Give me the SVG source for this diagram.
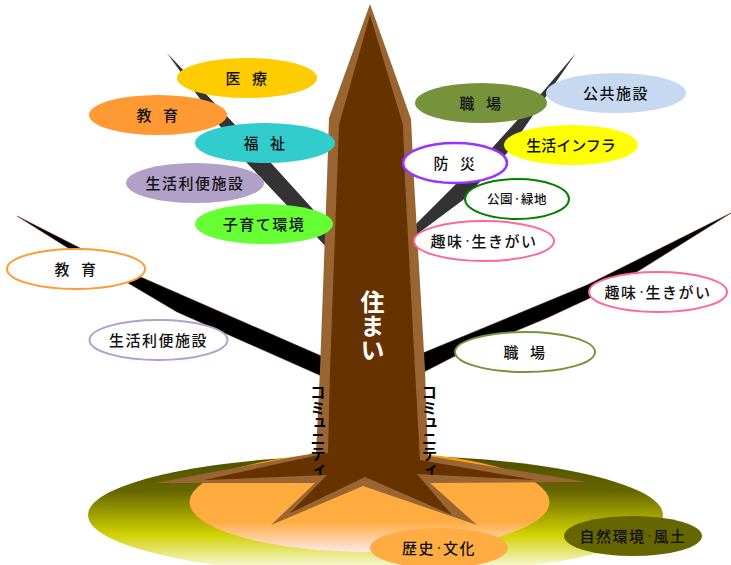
<svg xmlns="http://www.w3.org/2000/svg" width="731" height="565" viewBox="0 0 731 565">
<style>
text{font-family:"Noto Sans CJK JP","Noto Sans CJK SC",sans-serif;font-weight:500;font-size:15px;fill:#111;text-anchor:middle;dominant-baseline:central;letter-spacing:1.5px;word-spacing:5px}
.v{writing-mode:vertical-rl;text-orientation:upright;font-weight:700;letter-spacing:0;fill:#000}
.dot{font-size:8px;letter-spacing:0}
.ring{fill:#fff;stroke-width:2}
</style>
<defs>
<linearGradient id="groundFill" x1="0" y1="0" x2="0" y2="1">
<stop offset="0" stop-color="#4d4d00"/><stop offset=".3" stop-color="#666600"/><stop offset=".66" stop-color="#d0d000"/><stop offset=".95" stop-color="#fbfbe8"/>
</linearGradient>
<linearGradient id="moundFill" x1="0" y1="0" x2="0" y2="1">
<stop offset="0" stop-color="#ff9900"/><stop offset=".3" stop-color="#ffaa3c"/><stop offset=".7" stop-color="#ffad42"/><stop offset="1" stop-color="#fce8e8"/>
</linearGradient>
</defs>
<g id="ground">
<ellipse cx="375.500" cy="515" rx="287.500" ry="60" fill="url(#groundFill)"/>
<ellipse cx="369.500" cy="502" rx="180" ry="50" fill="url(#moundFill)"/>
</g>
<g id="branches">
<path id="branch-upper-left" fill="#333" d="M167 53L205 93L271 163L330 228V251L247 163L195 92Z"/>
<path id="branch-upper-right" fill="#333" d="M576 53L547 95L507 153L463 200L412 238V228L493 147L540 95Z"/>
<path id="branch-lower-left" fill="#000" stroke="#6b2a10" stroke-width=".5" d="M17 216L80 248L143 278L326 358V378L177 312L128 283L68 248Z"/>
<path id="branch-lower-right" fill="#000" stroke="#6b2a10" stroke-width=".5" d="M731 213L587 285L418 355V375L453 357L547 318L590 298L640 270Z"/>
</g>
<g id="trunk">
<path fill="#996633" d="M370 4L411 119L414 180L425 370L428 456L587 482L430 483L477 525L363 486L271 525L315 483L155 483L310 454L316 453L320 370L327 180L329 118Z"/>
<path fill="#663300" d="M370 15L403 125L405 180L415 370L420 460L535 480L417 474L452 515L365 477L290 513L327 475L204 480L328 453L330 370L337 180L339 125Z"/>
<text class="v" x="372.500" y="326" style="font-size:24px;fill:#fff">住まい</text>
</g>
<g id="community-labels">
<text class="v" x="318" y="431" style="font-size:15.500px">コミュニティ</text>
<text class="v" x="429.500" y="431" style="font-size:15.500px">コミュニティ</text>
</g>
<g id="node-iryo"><ellipse cx="247" cy="78" rx="70" ry="20" fill="#ffcc00"/><text x="247" y="77">医 療</text></g>
<g id="node-kyoiku-a"><ellipse cx="158" cy="115" rx="69" ry="20" fill="#ff9933"/><text x="158" y="114">教 育</text></g>
<g id="node-fukushi"><ellipse cx="265" cy="143" rx="70" ry="20" fill="#33cccc"/><text x="265" y="142">福 祉</text></g>
<g id="node-benri-a"><ellipse cx="195" cy="183" rx="69" ry="20" fill="#b1a0c7"/><text x="195" y="182">生活利便施設</text></g>
<g id="node-kosodate"><ellipse cx="264" cy="224" rx="69" ry="20" fill="#66ff33"/><text x="264" y="223">子育て環境</text></g>
<g id="node-kyoiku-b"><ellipse class="ring" cx="76" cy="269" rx="69" ry="20" stroke="#ff9933"/><text x="76" y="268">教 育</text></g>
<g id="node-benri-b"><ellipse class="ring" cx="158.500" cy="340" rx="69" ry="20" stroke="#b1a0c7"/><text x="158.500" y="339">生活利便施設</text></g>
<g id="node-shokuba-a"><ellipse cx="481" cy="103" rx="66" ry="20" fill="#76933c"/><text x="481" y="102">職 場</text></g>
<g id="node-kokyo"><ellipse cx="616" cy="93" rx="70" ry="20" fill="#c6d9f1"/><text x="616" y="92">公共施設</text></g>
<g id="node-infra"><ellipse cx="571" cy="145" rx="67" ry="20" fill="#ffff00"/><text x="571" y="144" style="letter-spacing:0">生活インフラ</text></g>
<g id="node-bosai"><ellipse class="ring" cx="455" cy="163" rx="52" ry="20" stroke="#9933ff" style="stroke-width:2.500px"/><text x="455" y="162">防 災</text></g>
<g id="node-koen"><ellipse class="ring" cx="517" cy="199" rx="52" ry="20" stroke="#008000"/><text x="517" y="198" style="font-size:12.500px;letter-spacing:.5px">公園<tspan class="dot">・</tspan>緑地</text></g>
<g id="node-shumi-a"><ellipse class="ring" cx="484" cy="241" rx="70" ry="20" stroke="#ff6699"/><text x="484" y="240">趣味<tspan class="dot">・</tspan>生きがい</text></g>
<g id="node-shumi-b"><ellipse class="ring" cx="658" cy="292" rx="69" ry="20" stroke="#ff6699"/><text x="658" y="291">趣味<tspan class="dot">・</tspan>生きがい</text></g>
<g id="node-shokuba-b"><ellipse class="ring" cx="525" cy="352" rx="70" ry="20" stroke="#76933c"/><text x="525" y="351">職 場</text></g>
<g id="node-rekishi"><ellipse cx="439" cy="548" rx="69" ry="20" fill="#ffad42"/><text x="439" y="547">歴史<tspan class="dot">・</tspan>文化</text></g>
<g id="node-shizen"><ellipse cx="633" cy="536" rx="69" ry="20" fill="#666600"/><text x="633" y="535">自然環境<tspan class="dot">・</tspan>風土</text></g>
</svg>
